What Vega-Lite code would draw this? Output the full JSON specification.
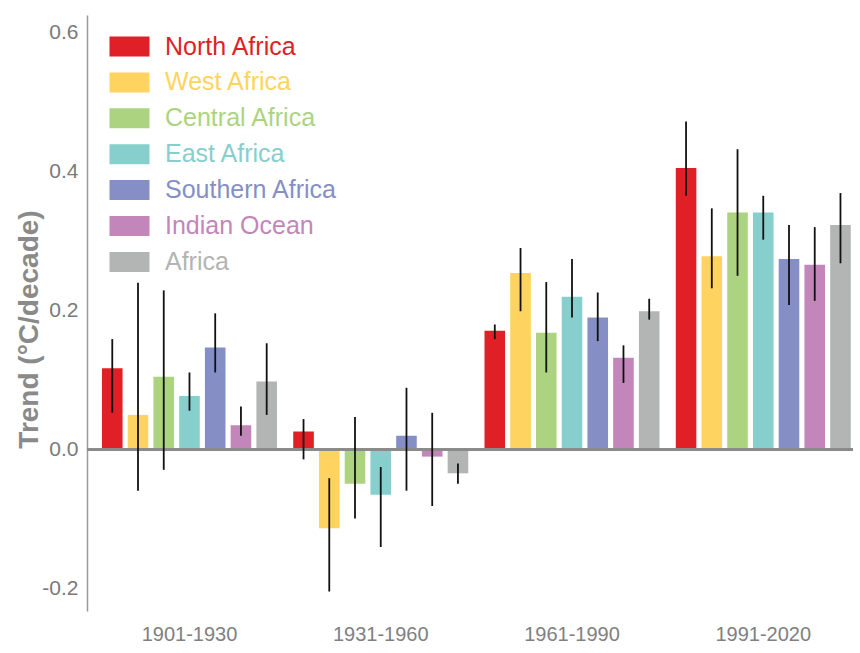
{
  "$schema": "https://vega.github.io/schema/vega-lite/v6.json",
  "width": 766,
  "height": 596,
  "autosize": {"type": "none"},
  "padding": {"left": 87, "top": 15, "right": 7, "bottom": 42},
  "background": "white",
  "config": {
    "view": {"stroke": null},
    "font": "Liberation Sans, Arial, sans-serif"
  },
  "data": {
    "values": [
      {"period": "1901-1930", "region": "North Africa", "trend": 0.117, "lo": 0.053, "hi": 0.159},
      {"period": "1901-1930", "region": "West Africa", "trend": 0.050, "lo": -0.059, "hi": 0.240},
      {"period": "1901-1930", "region": "Central Africa", "trend": 0.105, "lo": -0.029, "hi": 0.229},
      {"period": "1901-1930", "region": "East Africa", "trend": 0.077, "lo": 0.056, "hi": 0.111},
      {"period": "1901-1930", "region": "Southern Africa", "trend": 0.147, "lo": 0.111, "hi": 0.196},
      {"period": "1901-1930", "region": "Indian Ocean", "trend": 0.035, "lo": 0.020, "hi": 0.062},
      {"period": "1901-1930", "region": "Africa", "trend": 0.098, "lo": 0.050, "hi": 0.153},
      {"period": "1931-1960", "region": "North Africa", "trend": 0.026, "lo": -0.014, "hi": 0.044},
      {"period": "1931-1960", "region": "West Africa", "trend": -0.113, "lo": -0.204, "hi": -0.041},
      {"period": "1931-1960", "region": "Central Africa", "trend": -0.049, "lo": -0.099, "hi": 0.047},
      {"period": "1931-1960", "region": "East Africa", "trend": -0.065, "lo": -0.140, "hi": -0.025},
      {"period": "1931-1960", "region": "Southern Africa", "trend": 0.020, "lo": -0.059, "hi": 0.089},
      {"period": "1931-1960", "region": "Indian Ocean", "trend": -0.010, "lo": -0.081, "hi": 0.053},
      {"period": "1931-1960", "region": "Africa", "trend": -0.034, "lo": -0.049, "hi": -0.020},
      {"period": "1961-1990", "region": "North Africa", "trend": 0.171, "lo": 0.159, "hi": 0.180},
      {"period": "1961-1990", "region": "West Africa", "trend": 0.254, "lo": 0.199, "hi": 0.290},
      {"period": "1961-1990", "region": "Central Africa", "trend": 0.168, "lo": 0.111, "hi": 0.241},
      {"period": "1961-1990", "region": "East Africa", "trend": 0.220, "lo": 0.190, "hi": 0.274},
      {"period": "1961-1990", "region": "Southern Africa", "trend": 0.190, "lo": 0.156, "hi": 0.226},
      {"period": "1961-1990", "region": "Indian Ocean", "trend": 0.132, "lo": 0.096, "hi": 0.150},
      {"period": "1961-1990", "region": "Africa", "trend": 0.199, "lo": 0.187, "hi": 0.217},
      {"period": "1991-2020", "region": "North Africa", "trend": 0.405, "lo": 0.365, "hi": 0.472},
      {"period": "1991-2020", "region": "West Africa", "trend": 0.278, "lo": 0.232, "hi": 0.347},
      {"period": "1991-2020", "region": "Central Africa", "trend": 0.341, "lo": 0.250, "hi": 0.432},
      {"period": "1991-2020", "region": "East Africa", "trend": 0.341, "lo": 0.302, "hi": 0.365},
      {"period": "1991-2020", "region": "Southern Africa", "trend": 0.274, "lo": 0.208, "hi": 0.323},
      {"period": "1991-2020", "region": "Indian Ocean", "trend": 0.266, "lo": 0.214, "hi": 0.320},
      {"period": "1991-2020", "region": "Africa", "trend": 0.323, "lo": 0.268, "hi": 0.369}
    ]
  },
  "encoding": {
    "x": {
      "field": "period",
      "type": "nominal",
      "scale": {"paddingInner": 0.085, "paddingOuter": 0.045, "align": 0.87},
      "axis": {
        "title": null,
        "labelAngle": 0,
        "ticks": false,
        "domain": false,
        "labelFontSize": 20,
        "labelColor": "#808080",
        "labelPadding": 13
      }
    },
    "xOffset": {
      "field": "region",
      "type": "nominal",
      "sort": ["North Africa", "West Africa", "Central Africa", "East Africa", "Southern Africa", "Indian Ocean", "Africa"],
      "scale": {"paddingInner": 0.2, "paddingOuter": 0}
    }
  },
  "layer": [
    {
      "mark": {"type": "bar"},
      "encoding": {
        "y": {
          "field": "trend",
          "type": "quantitative",
          "scale": {"domain": [-0.232, 0.625], "nice": false, "zero": false},
          "axis": {
            "title": "Trend (°C/decade)",
            "titleFont": "Liberation Sans, Arial, sans-serif",
            "titleFontWeight": "bold",
            "titleFontSize": 28,
            "titleColor": "#8a8a8a",
            "titleX": -58,
            "titleY": 314,
            "titleBaseline": "middle",
            "titleAlign": "center",
            "values": [-0.2, 0, 0.2, 0.4, 0.6],
            "labelExpr": "datum.value < 0 ? '-' + format(-datum.value, '.1f') : format(datum.value, '.1f')",
            "grid": false,
            "ticks": false,
            "labelFontSize": 21,
            "labelColor": "#7a7a7a",
            "labelPadding": 9,
            "domainColor": "#9a9a9a",
            "domainWidth": 1.5
          }
        },
        "color": {
          "field": "region",
          "type": "nominal",
          "scale": {
            "domain": ["North Africa", "West Africa", "Central Africa", "East Africa", "Southern Africa", "Indian Ocean", "Africa"],
            "range": ["#e01f26", "#ffd35f", "#acd480", "#86cfcd", "#858fc6", "#c386ba", "#b3b4b4"]
          },
          "legend": {
            "title": null,
            "orient": "none",
            "legendX": 30,
            "legendY": 19,
            "symbolType": "M-2,-1H2V1H-2Z",
            "symbolSize": 400,
            "symbolStrokeWidth": 0,
            "symbolOpacity": 1,
            "labelFontSize": 25,
            "labelOffset": 23,
            "rowPadding": 9.9,
            "labelLimit": 400,
            "padding": 0,
            "encode": {
              "labels": {"update": {"fill": {"scale": "color", "field": "value"}}}
            }
          }
        }
      }
    },
    {
      "mark": {"type": "rule", "color": "#8a8a8a", "strokeWidth": 2},
      "encoding": {"y": {"datum": 0, "type": "quantitative"}, "x": null, "xOffset": null}
    },
    {
      "mark": {"type": "rule", "color": "#111111", "strokeWidth": 1.8},
      "encoding": {
        "y": {"field": "lo", "type": "quantitative"},
        "y2": {"field": "hi"}
      }
    }
  ]
}
